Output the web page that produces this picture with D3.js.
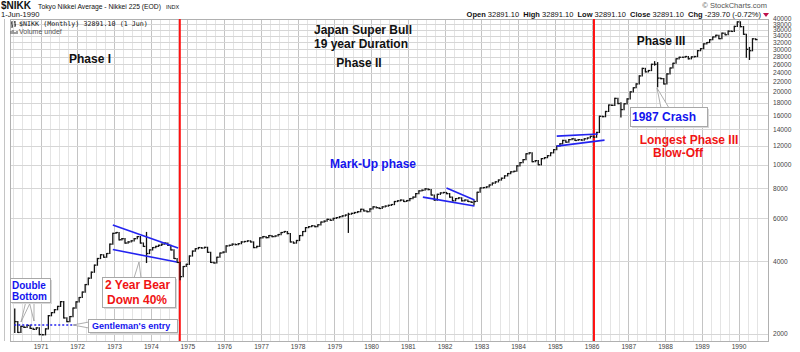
<!DOCTYPE html>
<html>
<head>
<meta charset="utf-8">
<script src="https://cdn.jsdelivr.net/npm/d3@7"></script>
<style>
  body { margin: 0; background: #fff; }
  svg { display: block; font-family: "Liberation Sans", Arial, sans-serif; }
</style>
</head>
<body>
<svg id="chart" width="800" height="352"></svg>
<script>
// Monthly closes of the Nikkei 225 (first bar = April 1970)
const firstMonth = "1970-04";
const close1970 = [2250, 2030, 2150, 2130, 2170, 2110, 2090, 2120, 1990];
const close1971 = [1985, 2100, 2380, 2450, 2520, 2600, 2720, 2330, 2250, 2360, 2560, 2714];
const close1972 = [2830, 2980, 3200, 3400, 3600, 3850, 4100, 4250, 4150, 4300, 4700, 5208];
const close1973 = [5250, 4900, 4950, 4750, 4800, 4850, 4950, 5050, 4750, 4600, 4300, 4450];
const close1974 = [4550, 4600, 4650, 4700, 4750, 4650, 4450, 4100, 3950, 3450, 3800, 3880];
const close1975 = [4200, 4400, 4500, 4550, 4530, 4560, 4350, 3950, 3930, 4150, 4320, 4359];
const close1976 = [4620, 4650, 4700, 4680, 4720, 4800, 4820, 4850, 4800, 4550, 4600, 4990];
const close1977 = [5050, 5000, 5100, 5050, 5080, 5150, 5250, 5300, 5200, 4800, 4750, 4866];
const close1978 = [5100, 5300, 5500, 5550, 5600, 5550, 5650, 5800, 5850, 5950, 5900, 6002];
const close1979 = [6050, 6100, 6150, 6200, 6250, 6300, 6350, 6400, 6550, 6450, 6400, 6569];
const close1980 = [6700, 6650, 6600, 6700, 6750, 6800, 6850, 7050, 7100, 7150, 7050, 7116];
const close1981 = [7250, 7350, 7600, 7800, 7850, 7950, 7900, 7500, 7150, 7550, 7650, 7682];
const close1982 = [7600, 7350, 7100, 7250, 7300, 7100, 7150, 7050, 7000, 7050, 7700, 8017];
const close1983 = [8050, 8100, 8250, 8400, 8500, 8650, 8800, 9000, 9200, 9350, 9400, 9894];
const close1984 = [10200, 10500, 11100, 11200, 10300, 10400, 10000, 10600, 10700, 10900, 11200, 11543];
const close1985 = [11950, 12200, 12600, 12400, 12700, 12800, 12600, 12700, 12650, 12800, 12900, 13113];
const close1986 = [13000, 13600, 15860, 15800, 16600, 17650, 17600, 18800, 17900, 16900, 17850, 18701];
const close1987 = [20000, 20800, 21566, 23275, 25000, 24200, 24500, 26000, 26000, 22800, 22686, 21564];
const close1988 = [23720, 25100, 26260, 27400, 27800, 27800, 28000, 27400, 27900, 28000, 29600, 30159];
const close1989 = [31580, 31985, 32839, 33713, 34267, 33183, 34954, 34431, 35637, 35549, 37269, 38916];
const close1990 = [37189, 34591, 29980, 29584, 33130, 32891];

// intra-month extremes that stick out of the close-to-close bars
const wickMonths = ["1970-04", "1973-11", "1974-10", "1979-05", "1982-10", "1986-10", "1987-09", "1987-10", "1990-03", "1990-04"];
const wickLow = [2030, 3950, 3355, 5260, 6850, 15750, 25800, 21000, 27800, 27250];
const wickHigh = [2534, 5250, 3950, 6300, 7100, 18000, 26646, 26400, 33000, 30500];

// trend lines drawn on the chart: [start date, start value, end date, end value]
const trendLines = [
  ["1972-12-15", 5640, "1974-09-25", 4530],
  ["1972-12-15", 4465, "1974-09-12", 3965],
  ["1982-01-15", 8010, "1982-10-20", 7150],
  ["1981-05-25", 7350, "1982-10-20", 6760],
  ["1985-01-15", 13130, "1986-02-28", 13390],
  ["1985-01-15", 11940, "1986-05-05", 12640]
];
const phaseDates = ["1974-10-12", "1986-01-20"];

const yTicks = [2000, 4000, 6000, 8000, 10000, 12000, 14000, 16000, 18000, 20000, 22000,
  24000, 26000, 28000, 30000, 32000, 34000, 36000, 38000, 40000];
const xTickYears = d3.range(1971, 1991);

const parseMonth = d3.timeParse("%Y-%m");
const parseDay = d3.timeParse("%Y-%m-%d");

const closes = [].concat(close1970, close1971, close1972, close1973, close1974, close1975,
  close1976, close1977, close1978, close1979, close1980, close1981, close1982, close1983,
  close1984, close1985, close1986, close1987, close1988, close1989, close1990);

const start = parseMonth(firstMonth);
const bars = closes.map((c, i) => {
  const date = d3.timeMonth.offset(start, i);
  const key = d3.timeFormat("%Y-%m")(date);
  const prev = i === 0 ? c : closes[i - 1];
  const w = wickMonths.indexOf(key);
  let lo = Math.min(prev, c), hi = Math.max(prev, c);
  if (w >= 0) { lo = Math.min(lo, wickLow[w]); hi = Math.max(hi, wickHigh[w]); }
  return { date: d3.timeDay.offset(date, 14), close: c, lo, hi };
});

// layout
const plot = { left: 10, right: 768, top: 19, bottom: 341 };
const svg = d3.select("#chart");

const x = d3.scaleTime()
  .domain([new Date(1971, 0, 1), new Date(1990, 0, 1)])
  .range([41, 739]);
const y = d3.scaleLog()
  .domain([2000, 40000])
  .range([334, 19]);

// grid
const grid = svg.append("g").attr("class", "grid");
const quarters = d3.timeMonth.every(3).range(new Date(1970, 0, 1), new Date(1990, 9, 1));
grid.selectAll("line.q")
  .data(quarters)
  .join("line")
  .attr("class", "q")
  .attr("x1", d => x(d)).attr("x2", d => x(d))
  .attr("y1", plot.top).attr("y2", plot.bottom)
  .attr("stroke", d => d.getMonth() === 0 ? "#c4c4c4" : "#e4e4e4")
  .attr("stroke-width", 1)
  .attr("shape-rendering", "crispEdges");

grid.selectAll("line.h")
  .data(yTicks)
  .join("line")
  .attr("class", "h")
  .attr("x1", plot.left).attr("x2", plot.right)
  .attr("y1", d => Math.round(y(d)) + 0.5).attr("y2", d => Math.round(y(d)) + 0.5)
  .attr("stroke", "#d6d6d6");

svg.append("rect")
  .attr("x", plot.left + 0.5).attr("y", plot.top + 0.5)
  .attr("width", plot.right - plot.left).attr("height", plot.bottom - plot.top)
  .attr("fill", "none").attr("stroke", "#b0b0b0");

// axes labels
svg.append("g").selectAll("text")
  .data(yTicks)
  .join("text")
  .attr("x", 773).attr("y", d => y(d) + 2.4)
  .attr("font-size", 6.6).attr("fill", "#444")
  .text(d => d);

svg.append("g").selectAll("text")
  .data(xTickYears)
  .join("text")
  .attr("x", d => x(new Date(d, 0, 1)))
  .attr("y", 349)
  .attr("text-anchor", "middle")
  .attr("font-size", 6.6).attr("fill", "#444")
  .text(d => d);

// phase dividers
svg.append("g").selectAll("line")
  .data(phaseDates)
  .join("line")
  .attr("x1", d => x(parseDay(d))).attr("x2", d => x(parseDay(d)))
  .attr("y1", plot.top).attr("y2", plot.bottom)
  .attr("stroke", "#ff1010").attr("stroke-width", 2);

// price bars
const pg = svg.append("g").attr("class", "bars").attr("stroke", "#111").attr("stroke-width", 1.3);
pg.selectAll("line.v")
  .data(bars)
  .join("line")
  .attr("class", "v")
  .attr("x1", d => x(d.date)).attr("x2", d => x(d.date))
  .attr("y1", d => y(d.hi) - 0.6).attr("y2", d => y(d.lo) + 0.6);
pg.selectAll("line.t")
  .data(bars)
  .join("line")
  .attr("class", "t")
  .attr("x1", d => x(d.date)).attr("x2", d => x(d.date) + 2)
  .attr("y1", d => y(d.close)).attr("y2", d => y(d.close));

// trend lines
svg.append("g").selectAll("line")
  .data(trendLines)
  .join("line")
  .attr("x1", d => x(parseDay(d[0]))).attr("y1", d => y(d[1]))
  .attr("x2", d => x(parseDay(d[2]))).attr("y2", d => y(d[3]))
  .attr("stroke", "#2323f0").attr("stroke-width", 1.6);

// gentleman's entry dotted level
svg.append("line")
  .attr("x1", x(parseDay("1970-04-10"))).attr("x2", x(parseDay("1972-02-10")))
  .attr("y1", y(2180)).attr("y2", y(2180))
  .attr("stroke", "#2323f0").attr("stroke-width", 1.5).attr("stroke-dasharray", "2,2");

// callouts
const ann = svg.append("g");
function wedge(pts) {
  ann.append("polygon")
    .attr("points", pts.map(p => p.join(",")).join(" "))
    .attr("fill", "#fff").attr("stroke", "#999").attr("stroke-width", 0.8);
}
function box(x0, y0, w, h) {
  ann.append("rect").attr("x", x0 + 2).attr("y", y0 + 2).attr("width", w).attr("height", h)
    .attr("fill", "#d8d8d8");
  ann.append("rect").attr("x", x0 + 0.5).attr("y", y0 + 0.5).attr("width", w).attr("height", h)
    .attr("fill", "#fff").attr("stroke", "#a8a8a8");
}
function label(txt, tx, ty, size, color, anchor) {
  ann.append("text").attr("x", tx).attr("y", ty)
    .attr("font-size", size).attr("font-weight", "bold")
    .attr("fill", color).attr("text-anchor", anchor || "start")
    .text(txt);
}

wedge([[26, 301], [31, 301], [21, 322]]);
wedge([[29, 301], [34, 301], [34, 321]]);
box(10, 278, 40, 24);
label("Double", 12, 289, 10, "#1414ee");
label("Bottom", 12, 300, 10, "#1414ee");

wedge([[134, 278], [141, 278], [139, 262]]);
box(102, 277, 73, 30);
label("2 Year Bear", 105, 289, 12, "#f01414");
label("Down 40%", 107, 304, 12, "#f01414");

wedge([[89, 322], [89, 328], [73, 325]]);
box(88, 319, 89, 13);
label("Gentleman's entry", 92, 329, 9, "#1414ee");

wedge([[661, 108], [669, 108], [657, 88]]);
box(630, 107, 77, 19);
label("1987 Crash", 632, 121, 12, "#1414ee");

label("Phase I", 90, 63, 12, "#111", "middle");
label("Japan Super Bull", 363, 34, 12, "#111", "middle");
label("19 year Duration", 361, 48, 12, "#111", "middle");
label("Phase II", 359, 67, 12, "#111", "middle");
label("Phase III", 661, 45, 12, "#111", "middle");
label("Mark-Up phase", 373, 168, 12, "#1414ee", "middle");
label("Longest Phase III", 689, 144, 12, "#f01414", "middle");
label("Blow-Off", 678, 157, 12, "#f01414", "middle");

// header
const hd = svg.append("g").attr("fill", "#111");
hd.append("text").attr("x", 1).attr("y", 9).attr("font-size", 10).attr("font-weight", "bold").text("$NIKK");
hd.append("text").attr("x", 38).attr("y", 9).attr("font-size", 7)
  .attr("textLength", 123).attr("lengthAdjust", "spacingAndGlyphs")
  .text("Tokyo Nikkei Average - Nikkei 225 (EOD)");
hd.append("text").attr("x", 166).attr("y", 9).attr("font-size", 5.5).text("INDX");
hd.append("text").attr("x", 1).attr("y", 17).attr("font-size", 7.6).text("1-Jun-1990");
hd.append("text").attr("x", 767).attr("y", 8).attr("font-size", 7.5).attr("fill", "#555")
  .attr("text-anchor", "end").text("\u00a9 StockCharts.com");

const ohlc = hd.append("text").attr("x", 761).attr("y", 17).attr("font-size", 7.5).attr("text-anchor", "end");
[["Open", " 32891.10  "], ["High", " 32891.10  "], ["Low", " 32891.10  "], ["Close", " 32891.10  "], ["Chg", " -239.70 (-0.72%)"]]
  .forEach(p => {
    ohlc.append("tspan").attr("font-weight", "bold").text(p[0]);
    ohlc.append("tspan").attr("xml:space", "preserve").text(p[1]);
  });
hd.append("path").attr("d", "M763,13 L769,13 L766,17 Z").attr("fill", "#c0104a");

// legend inside plot
const lg = svg.append("g");
lg.append("path").attr("d", "M12,21 V28 M11,23 H12 M12,26 H13 M15,21 V27 M14,22 H15 M15,25 H16")
  .attr("stroke", "#111").attr("stroke-width", 0.9).attr("fill", "none");
lg.append("text").attr("x", 19).attr("y", 26).attr("font-family", "DejaVu Sans Mono")
  .attr("font-size", 6.7).attr("fill", "#111").text("$NIKK (Monthly) 32891.10 (1 Jun)");
lg.append("path").attr("d", "M11,34 V31 M13,34 V30 M15,34 V32 M17,34 V31")
  .attr("stroke", "#777").attr("stroke-width", 1.4);
lg.append("text").attr("x", 19).attr("y", 34).attr("font-size", 7).attr("fill", "#555").text("Volume undef");
</script>
</body>
</html>
